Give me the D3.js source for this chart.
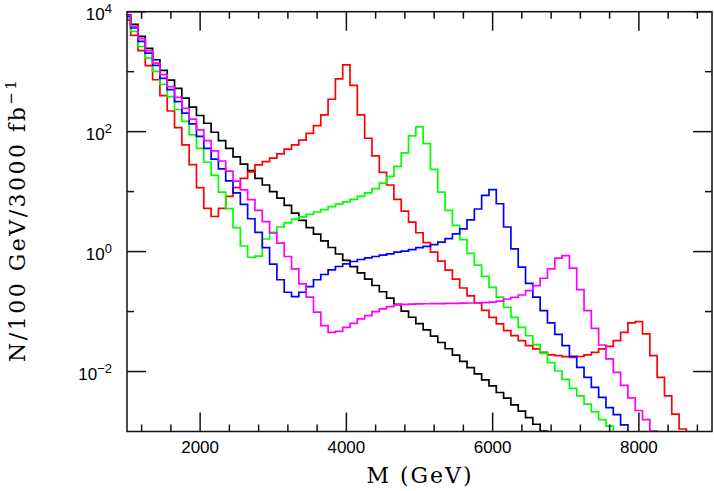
<!DOCTYPE html>
<html>
<head>
<meta charset="utf-8">
<script src="https://cdn.jsdelivr.net/npm/d3@7"></script>
<style>
  body { margin: 0; background: #fff; }
</style>
</head>
<body>
<div class="canvas"></div>
<script>
// bins are 100 GeV wide, centred on 1000, 1100, ...
const binCenters = d3.range(1000, 9000, 100);

const black = [8900, 6170, 3890, 2450, 1580, 1050, 724, 525, 363, 257,
  186, 138, 97.7, 70.8, 52.5, 38.0, 28.8, 22.4, 16.6, 12.9,
  10.0, 7.76, 5.89, 4.37, 3.31, 2.51, 1.95, 1.51, 1.17, 0.912,
  0.716, 0.562, 0.442, 0.347, 0.272, 0.214, 0.168, 0.132, 0.102, 0.0804,
  0.0631, 0.0495, 0.0389, 0.0305, 0.0240, 0.0188, 0.0148, 0.0116, 0.00912, 0.00724,
  0.00575, 0.00447, 0.00359, 0.00279, 0.00219, 0.00170, 0.00132, 0.00102, 0.00079];

const red = [7240, 4030, 2240, 1260, 733, 398, 221, 117, 60.3, 28.2,
  11.7, 5.25, 3.85, 5.25, 8.32, 11.7, 16.6, 21.4, 27.9, 31.6,
  36.3, 42.7, 51.3, 60.3, 72.4, 93.3, 126, 191, 347, 759,
  1300, 589, 191, 77.6, 39.4, 20.9, 12.9, 7.41, 4.73, 3.09,
  2.06, 1.41, 0.977, 0.692, 0.490, 0.347, 0.247, 0.182, 0.139, 0.105,
  0.0802, 0.0621, 0.0481, 0.0396, 0.0327, 0.0270, 0.0238, 0.0209, 0.0189, 0.0184,
  0.0177, 0.0172, 0.0178, 0.0189, 0.0209, 0.0238, 0.0263, 0.0327, 0.0451, 0.0646,
  0.0679, 0.0423, 0.0184, 0.00798, 0.00394, 0.00195, 0.00110, 0.0005];

const green = [7760, 4700, 2630, 1680, 1010, 617, 385, 234, 148, 88.1,
  52.5, 30.9, 18.6, 9.77, 5.19, 2.51, 1.24, 0.805, 0.838, 1.62,
  2.09, 2.57, 3.02, 3.47, 3.80, 4.17, 4.57, 5.01, 5.62, 6.17,
  6.76, 7.41, 8.32, 9.55, 11.2, 13.9, 18.0, 26.3, 44.2, 85.1,
  120, 63.1, 23.4, 9.77, 4.86, 2.73, 1.58, 0.933, 0.596, 0.386,
  0.254, 0.174, 0.117, 0.080, 0.0545, 0.0395, 0.0280, 0.0203, 0.0141, 0.0102,
  0.00741, 0.00525, 0.00394, 0.00285, 0.00212, 0.00158, 0.00123, 0.0008];

const blue = [8320, 5350, 3200, 2040, 1270, 776, 501, 316, 203, 135,
  83.2, 52.5, 34.7, 24.0, 15.1, 9.55, 6.12, 3.53, 2.09, 1.16,
  0.617, 0.339, 0.210, 0.178, 0.210, 0.261, 0.339, 0.415, 0.497, 0.564,
  0.625, 0.684, 0.738, 0.787, 0.828, 0.871, 0.918, 0.977, 1.02, 1.08,
  1.16, 1.22, 1.31, 1.44, 1.64, 1.98, 2.40, 3.39, 5.13, 8.65,
  10.8, 6.28, 2.57, 1.11, 0.550, 0.295, 0.174, 0.104, 0.0646, 0.0417,
  0.0270, 0.0179, 0.0117, 0.00798, 0.00543, 0.00372, 0.00251, 0.00191, 0.00129, 0.0008];

const magenta = [8710, 5690, 3550, 2240, 1390, 891, 562, 372, 245, 162,
  107, 70.8, 47.9, 32.4, 21.9, 15.0, 10.7, 7.33, 4.86, 3.16,
  2.04, 1.38, 0.828, 0.516, 0.290, 0.174, 0.0977, 0.0582, 0.0450, 0.0468,
  0.0546, 0.0637, 0.0753, 0.0855, 0.100, 0.111, 0.121, 0.129, 0.132, 0.133,
  0.134, 0.135, 0.136, 0.136, 0.137, 0.137, 0.138, 0.139, 0.139, 0.141,
  0.144, 0.149, 0.162, 0.173, 0.189, 0.224, 0.271, 0.359, 0.514, 0.776,
  0.859, 0.528, 0.232, 0.104, 0.0526, 0.0277, 0.0162, 0.0097, 0.00589, 0.00363,
  0.00224, 0.00158, 0.00102, 0.0006];

const seriesList = [
  {name: 'black', values: black, color: '#000000'},
  {name: 'red', values: red, color: '#ff0000'},
  {name: 'green', values: green, color: '#00ff00'},
  {name: 'blue', values: blue, color: '#0000ff'},
  {name: 'magenta', values: magenta, color: '#ff00ff'}
];

const xTickLabels = [2000, 4000, 6000, 8000];
const xMinorTicks = [1200, 1600, 2400, 2800, 3200, 3600, 4400, 4800, 5200, 5600, 6400, 6800, 7200, 7600, 8400, 8800];
const yMajorExp = [4, 2, 0, -2];
const yMinorExp = [3, 1, -1];

// svg + plot frame
const width = 714, height = 491;
const plot = {left: 127, right: 712, top: 11.7, bottom: 431.5};

const svg = d3.select('.canvas')
  .append('svg')
    .attr('width', width)
    .attr('height', height);

const x = d3.scaleLinear()
  .domain([1000, 9000])
  .range([plot.left, plot.right]);
const y = d3.scaleLog()
  .domain([1e-3, 1e4])
  .range([plot.bottom, plot.top]);

svg.append('clipPath')
    .attr('id', 'plotclip')
  .append('rect')
    .attr('x', plot.left)
    .attr('y', plot.top)
    .attr('width', plot.right - plot.left)
    .attr('height', plot.bottom - plot.top);

// histograms as step lines
const line = d3.line()
  .x((d, i) => x(binCenters[i]))
  .y(d => y(d))
  .curve(d3.curveStep);

svg.append('g')
    .attr('clip-path', 'url(#plotclip)')
  .selectAll('path')
  .data(seriesList)
  .enter()
  .append('path')
    .attr('d', d => line(d.values))
    .attr('fill', 'none')
    .attr('stroke', d => d.color)
    .attr('stroke-width', 1.7)
    .attr('stroke-linejoin', 'miter');

// frame
svg.append('rect')
  .attr('x', plot.left)
  .attr('y', plot.top)
  .attr('width', plot.right - plot.left)
  .attr('height', plot.bottom - plot.top)
  .attr('fill', 'none')
  .attr('stroke', '#111')
  .attr('stroke-width', 1.5);

// ticks, all pointing inwards on the four sides
const ticks = svg.append('g').attr('stroke', '#111').attr('stroke-width', 1.5);
const bigTick = 19, smallTick = 7;
const xTicks = xTickLabels.map(v => ({v, len: bigTick}))
  .concat(xMinorTicks.map(v => ({v, len: smallTick})));
xTicks.forEach(t => {
  ticks.append('line')
    .attr('x1', x(t.v)).attr('x2', x(t.v))
    .attr('y1', plot.bottom).attr('y2', plot.bottom - t.len);
  ticks.append('line')
    .attr('x1', x(t.v)).attr('x2', x(t.v))
    .attr('y1', plot.top).attr('y2', plot.top + t.len);
});
const yTicks = yMajorExp.map(e => ({v: Math.pow(10, e), len: bigTick}))
  .concat(yMinorExp.map(e => ({v: Math.pow(10, e), len: smallTick})));
yTicks.forEach(t => {
  ticks.append('line')
    .attr('x1', plot.left).attr('x2', plot.left + t.len)
    .attr('y1', y(t.v)).attr('y2', y(t.v));
  ticks.append('line')
    .attr('x1', plot.right).attr('x2', plot.right - t.len)
    .attr('y1', y(t.v)).attr('y2', y(t.v));
});

// x tick labels
svg.append('g')
  .selectAll('text')
  .data(xTickLabels)
  .enter()
  .append('text')
    .attr('x', d => x(d))
    .attr('y', 453)
    .attr('text-anchor', 'middle')
    .attr('font-family', 'Liberation Sans, Arial, sans-serif')
    .attr('font-size', 17)
    .text(d => d);

// y tick labels 10^n
const yLab = svg.append('g')
  .selectAll('text')
  .data(yMajorExp)
  .enter()
  .append('text')
    .attr('x', 112)
    .attr('y', d => y(Math.pow(10, d)) + 8.5)
    .attr('text-anchor', 'end')
    .attr('font-family', 'Liberation Sans, Arial, sans-serif')
    .attr('font-size', 17);
yLab.append('tspan').text('10');
yLab.append('tspan')
  .attr('dy', -7)
  .attr('font-size', 13)
  .text(d => d < 0 ? '\u2212' + (-d) : d);

// axis titles
svg.append('text')
  .attr('x', 420)
  .attr('y', 483)
  .attr('text-anchor', 'middle')
  .attr('font-family', 'DejaVu Serif, serif')
  .attr('font-size', 22)
  .attr('letter-spacing', 2)
  .text('M (GeV)');

const yTitle = svg.append('text')
  .attr('transform', 'translate(25, 362) rotate(-90)')
  .attr('font-family', 'DejaVu Serif, serif')
  .attr('font-size', 22)
  .attr('letter-spacing', 2.5);
yTitle.append('tspan').text('N/100 GeV/3000 fb');
yTitle.append('tspan')
  .attr('dy', -9)
  .attr('font-size', 15)
  .text('\u22121');
</script>
</body>
</html>
